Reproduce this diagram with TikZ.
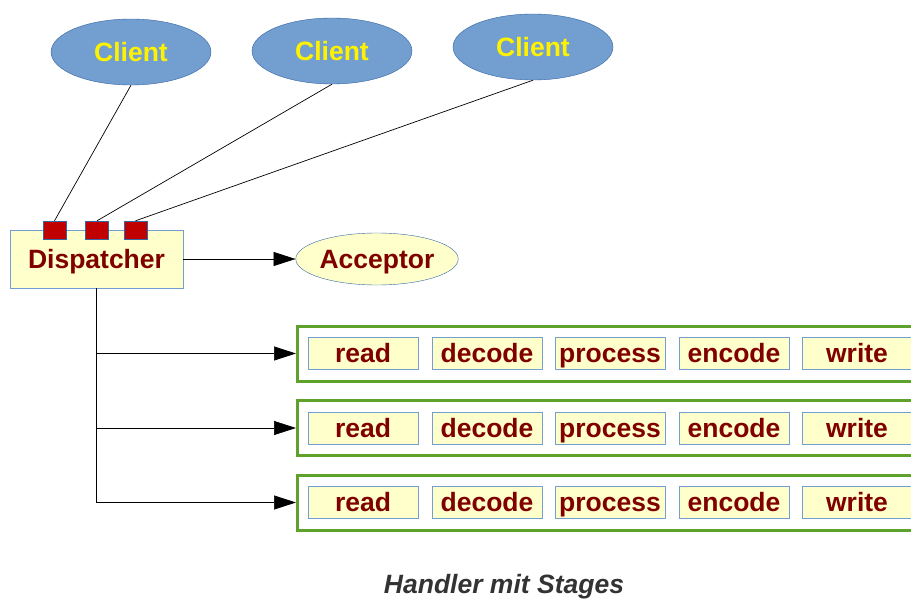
\documentclass[tikz,border=0pt]{standalone}
\usepackage{fontspec}
\setmainfont{Liberation Sans}
\usetikzlibrary{shapes.geometric,arrows.meta}
\definecolor{cblue}{HTML}{729FCF}
\definecolor{cdblue}{HTML}{3465A4}
\definecolor{cyel}{HTML}{FFFFCC}
\definecolor{cmar}{HTML}{800000}
\definecolor{cred}{HTML}{C00000}
\definecolor{cgreen}{HTML}{5EA12B}
\definecolor{ccap}{HTML}{333333}
\tikzset{
  lbl/.style={font=\fontsize{26.5}{30}\selectfont\bfseries, text height=24.4pt, text depth=5.8pt},
  client/.style={ellipse, draw=cdblue, fill=cblue, minimum width=160pt, minimum height=66pt, inner sep=0pt, lbl, text=yellow},
  acc/.style={ellipse, draw=cdblue, fill=cyel, minimum width=162pt, minimum height=52pt, inner sep=0pt, lbl, text=cmar},
  dispbox/.style={rectangle, draw=cblue, fill=cyel, minimum width=173pt, minimum height=58pt, inner sep=0pt, lbl, text=cmar, line width=0.8pt},
  port/.style={rectangle, draw=cdblue, fill=cred, minimum width=23pt, minimum height=18pt, inner sep=0pt},
  rowbox/.style={rectangle, draw=cgreen, line width=3pt, minimum width=700pt, minimum height=55pt, inner sep=0pt, anchor=west},
  stagebox/.style={rectangle, draw=cblue, fill=cyel, minimum width=110pt, minimum height=32pt, inner sep=0pt, lbl, text=cmar, line width=0.8pt},
  conn/.style={draw=black, line width=0.7pt},
  arr/.style={conn, -{Triangle[length=22pt,width=14pt]}}
}
\begin{document}
\begin{tikzpicture}[x=1pt,y=-1pt]
\useasboundingbox (0,0) rectangle (911,599);
\clip (0,0) rectangle (911,599);
\node[client] (c1) at (131,52) {Client};
\node[client] (c2) at (332,51) {Client};
\node[client] (c3) at (533,47) {Client};
\node[dispbox] (disp) at (96.5,259) {Dispatcher};
\node[port] (p1) at (54.5,230) {};
\node[port] (p2) at (97,230) {};
\node[port] (p3) at (135.5,230) {};
\draw[conn] (c1.south) -- (p1.north);
\draw[conn] (c2.south) -- (p2.north);
\draw[conn] (c3.south) -- (p3.north);
\node[acc] (acc) at (377,259) {Acceptor};
\draw[arr] (disp.east) -- (acc.west);
\foreach \i/\y in {1/353.5,2/428,3/502.5}{
  \node[rowbox] (row\i) at (296,\y) {};
  \node[stagebox] (read\i) at (363,\y) {read};
  \node[stagebox] (decode\i) at (487,\y) {decode};
  \node[stagebox] (process\i) at (610,\y) {process};
  \node[stagebox] (encode\i) at (734,\y) {encode};
  \node[stagebox] (write\i) at (857,\y) {write};
  \draw[arr] (disp.south) |- (row\i.west);
}
\node[font=\fontsize{26.5}{30}\selectfont\bfseries\itshape, text=ccap] (cap) at (504,587) {Handler mit Stages};
\end{tikzpicture}
\end{document}
